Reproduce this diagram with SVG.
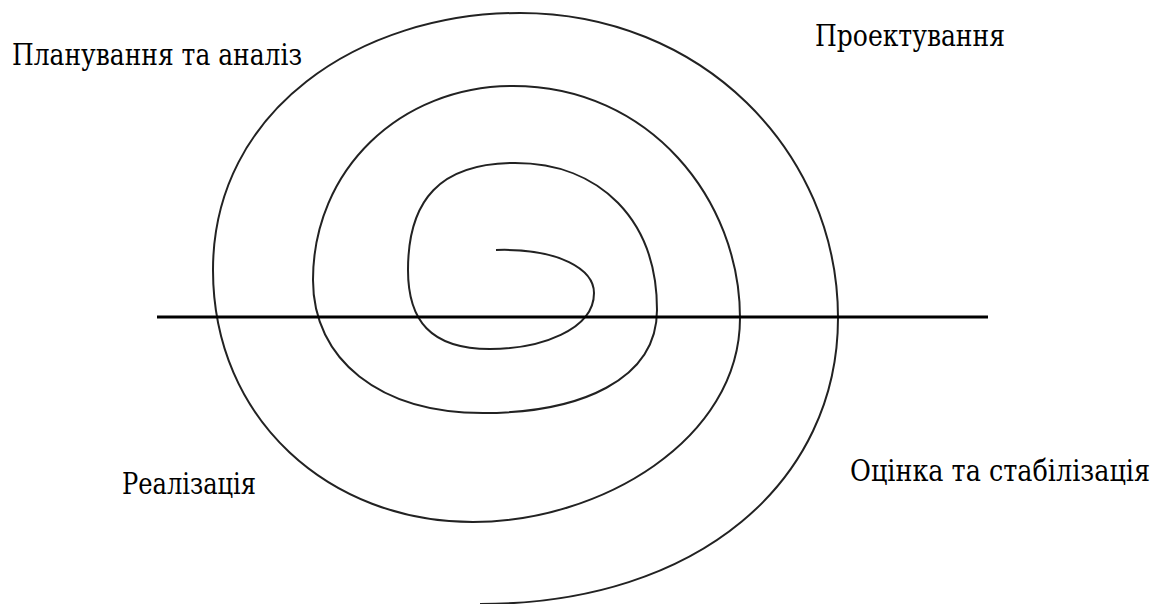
<svg xmlns="http://www.w3.org/2000/svg" width="1165" height="604" viewBox="0 0 1165 604">
<style>
.lbl{font-family:"DejaVu Serif Condensed","Noto Serif","DejaVu Serif",serif;font-size:29px;fill:#000}
.sp{fill:none;stroke:#222;stroke-width:2}
</style>
<rect width="1165" height="604" fill="#fff"/>
<g id="spiral">
<path class="sp" d="M496,250 C560,248 594,270 594,293 C594,330 540,349 490,349 C430,349 408,320 408,270 C408,200 440,163 515,163 C600,163 657,220 657,310 C657,380 580,413 483,413 C380,413 313,360 313,280 C313,170 400,86 513,86 C650,86 740,200 740,318 C740,440 600,522 473,522 C330,522 213,420 213,270 C213,110 360,13 520,13 C700,13 838,150 838,318 C838,480 700,604 480,604"/>
</g>
<g id="axis">
<line x1="157" y1="317" x2="988" y2="317" stroke="#000" stroke-width="3"/>
</g>
<g id="labels">
<text class="lbl" x="12" y="65" textLength="290" lengthAdjust="spacingAndGlyphs">Планування та аналіз</text>
<text class="lbl" x="815" y="46" textLength="190" lengthAdjust="spacingAndGlyphs">Проектування</text>
<text class="lbl" x="122" y="494" textLength="134" lengthAdjust="spacingAndGlyphs">Реалізація</text>
<text class="lbl" x="850" y="481" textLength="300" lengthAdjust="spacingAndGlyphs">Оцінка та стабілізація</text>
</g>
</svg>
